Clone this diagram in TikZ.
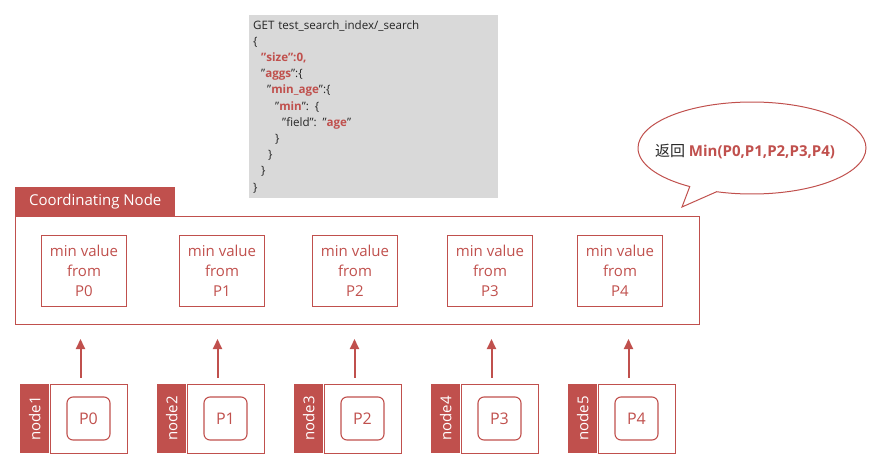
\documentclass[tikz,border=0pt]{standalone}
\usepackage{fontspec}
\setmainfont{Open Sans}
\newfontfamily\cjk{Noto Sans CJK SC}
\usetikzlibrary{arrows.meta,positioning,shapes.callouts}
\definecolor{esred}{HTML}{C0504D}
\definecolor{codegray}{HTML}{D9D9D9}
\definecolor{darktext}{HTML}{262626}
\newcommand\kw[1]{\textcolor{esred}{\textbf{#1}}}
\tikzset{
  tab/.style={fill=esred, text=white, inner sep=0pt, minimum width=160pt, minimum height=29pt, font=\fontsize{15}{18}\selectfont},
  minbox/.style={draw=esred, line width=1pt, text=esred, align=center, minimum width=85pt, minimum height=71pt, inner sep=2pt, font=\fontsize{15}{20}\selectfont},
  shardbox/.style={draw=esred, line width=1pt, minimum width=77pt, minimum height=69pt, inner sep=0pt},
  strip/.style={fill=esred, minimum width=29pt, minimum height=69pt, inner sep=0pt},
  shard/.style={draw=esred, line width=1.1pt, text=esred, rounded corners=6pt, minimum size=43pt, inner sep=0pt, font=\fontsize{16}{18}\selectfont},
  up/.style={-{Triangle[width=9pt,length=10pt]}, esred, line width=2pt, shorten <=6pt, shorten >=14pt}
}
\begin{document}
\begin{tikzpicture}[x=1pt, y=-1pt]
    \useasboundingbox (0,0) rectangle (879,461);
    % query
    \node [anchor=north west, fill=codegray, text=darktext, align=left, text width=241pt, inner xsep=4pt, inner ysep=5pt, font=\fontsize{11.6}{16.2}\selectfont] (query) at (249,15) {GET test\_search\_index/\_search\\
\{\\
\hspace*{8pt}\kw{"size":0,}\\
\hspace*{8pt}"\kw{aggs}":\{\\
\hspace*{14pt}"\kw{min\_age}":\{\\
\hspace*{22pt}"\kw{min}": \{\\
\hspace*{29pt}"field": "\kw{age}"\\
\hspace*{22pt}\}\\
\hspace*{15pt}\}\\
\hspace*{8pt}\}\\
\}};
    % coordinating node
    \node [tab, anchor=south west] (tab) at (15,216) {Coordinating Node};
    \node [draw=esred, line width=1pt, anchor=north west, minimum width=684pt, minimum height=108pt] (coord) at (15,216) {};
    \foreach \i/\x in {0/84,1/222,2/355,3/490,4/620} {
        \node [minbox] (m\i) at (\x,270.5) {min value\\from\\P\i};
    }
    % data nodes
    \foreach \i in {0,...,4} {
        \pgfmathtruncatemacro{\j}{\i+1}
        \node [shardbox] (n\j) at (88.5+137*\i,418.5) {};
        \node [strip, left=0pt of n\j] (s\j) {};
        \node [rotate=90, text=white, font=\fontsize{15}{18}\selectfont] (t\j) at (s\j) {node\j};
        \node [shard] (p\i) at (n\j) {P\i};
        \coordinate (a\j) at ([xshift=-8pt]n\j.north);
        \draw [up] (a\j) -- (a\j |- coord.south);
    }
    % result
    \node [ellipse callout, draw=esred, line width=1pt, inner sep=0pt, minimum width=228pt, minimum height=92pt, callout absolute pointer={(682,207)}] (ret) at (752,148) {};
    \node [font=\fontsize{15}{18}\selectfont] (rettext) at (745,152) {\textcolor{darktext}{\cjk 返回} \kw{Min(P0,P1,P2,P3,P4)}};
\end{tikzpicture}
\end{document}
